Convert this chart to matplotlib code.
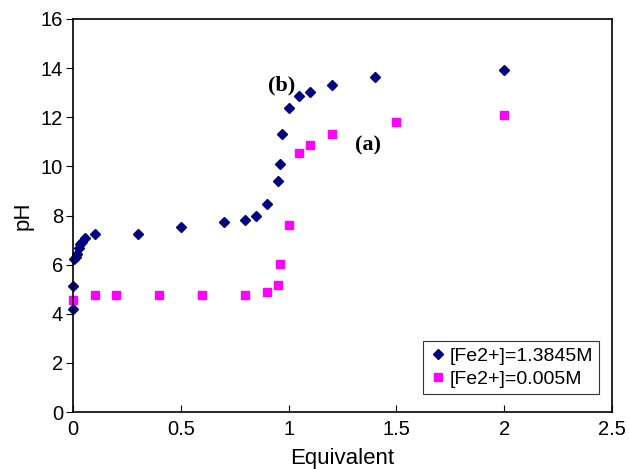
import matplotlib.pyplot as plt

# data
x_b = [0, 0, 0.005, 0.014, 0.02, 0.028, 0.033, 0.04, 0.056, 0.1, 0.3, 0.5, 0.7, 0.8,
       0.85, 0.9, 0.95, 0.96, 0.97, 1.0, 1.05, 1.1, 1.2, 1.4, 2.0]
ph_b = [4.2, 5.13, 6.24, 6.3, 6.43, 6.66, 6.82, 6.93, 7.07, 7.26, 7.26, 7.53, 7.72, 7.83,
        7.99, 8.46, 9.42, 10.1, 11.3, 12.38, 12.87, 13.03, 13.33, 13.62, 13.94]

x_a = [0, 0.1, 0.2, 0.4, 0.6, 0.8, 0.9, 0.95, 0.96, 1.0, 1.05, 1.1, 1.2, 1.5, 2.0]
ph_a = [4.56, 4.78, 4.78, 4.78, 4.78, 4.78, 4.9, 5.16, 6.03, 7.6, 10.53, 10.87, 11.3, 11.8, 12.1]

labels = ["[Fe2+]=1.3845M", "[Fe2+]=0.005M"]

plt.rcParams['font.family'] = ['Liberation Sans', 'DejaVu Sans']

fig = plt.figure(figsize=(6.29, 4.69), dpi=100)
ax = fig.add_axes([0.116, 0.1215, 0.857, 0.838])

ax.plot(x_b, ph_b, linestyle="none", marker="D", ms=5.5, color="#000080",
        label=labels[0], clip_on=False)
ax.plot(x_a, ph_a, linestyle="none", marker="s", ms=6, color="#FF00FF",
        label=labels[1], clip_on=False)

ax.set_xlim(0, 2.5)
ax.set_ylim(0, 16)
ax.set_xticks([0, 0.5, 1, 1.5, 2, 2.5])
ax.set_xticklabels(["0", "0.5", "1", "1.5", "2", "2.5"])
ax.set_yticks(range(0, 17, 2))
ax.tick_params(axis="x", direction="in", length=5, labelsize=14.5, pad=6)
ax.tick_params(axis="y", direction="out", length=5, labelsize=14.5, pad=2)
for s in ax.spines.values():
    s.set_linewidth(1.2)

ax.set_xlabel("Equivalent", fontsize=16, labelpad=6)
ax.set_ylabel("pH", fontsize=16, labelpad=5)

ax.text(0.97, 13.3, "(b)", fontsize=16, fontweight="bold", family="Liberation Serif",
        ha="center", va="center")
ax.text(1.37, 10.87, "(a)", fontsize=16, fontweight="bold", family="Liberation Serif",
        ha="center", va="center")

leg = ax.legend(loc="lower right", bbox_to_anchor=(0.976, 0.046), fontsize=14,
                frameon=True, fancybox=False, edgecolor="black", handletextpad=0.1,
                handlelength=1.0, borderpad=0.3, labelspacing=0.3, borderaxespad=0)
leg.get_frame().set_linewidth(0.8)

fig.savefig("out.png", dpi=100)
